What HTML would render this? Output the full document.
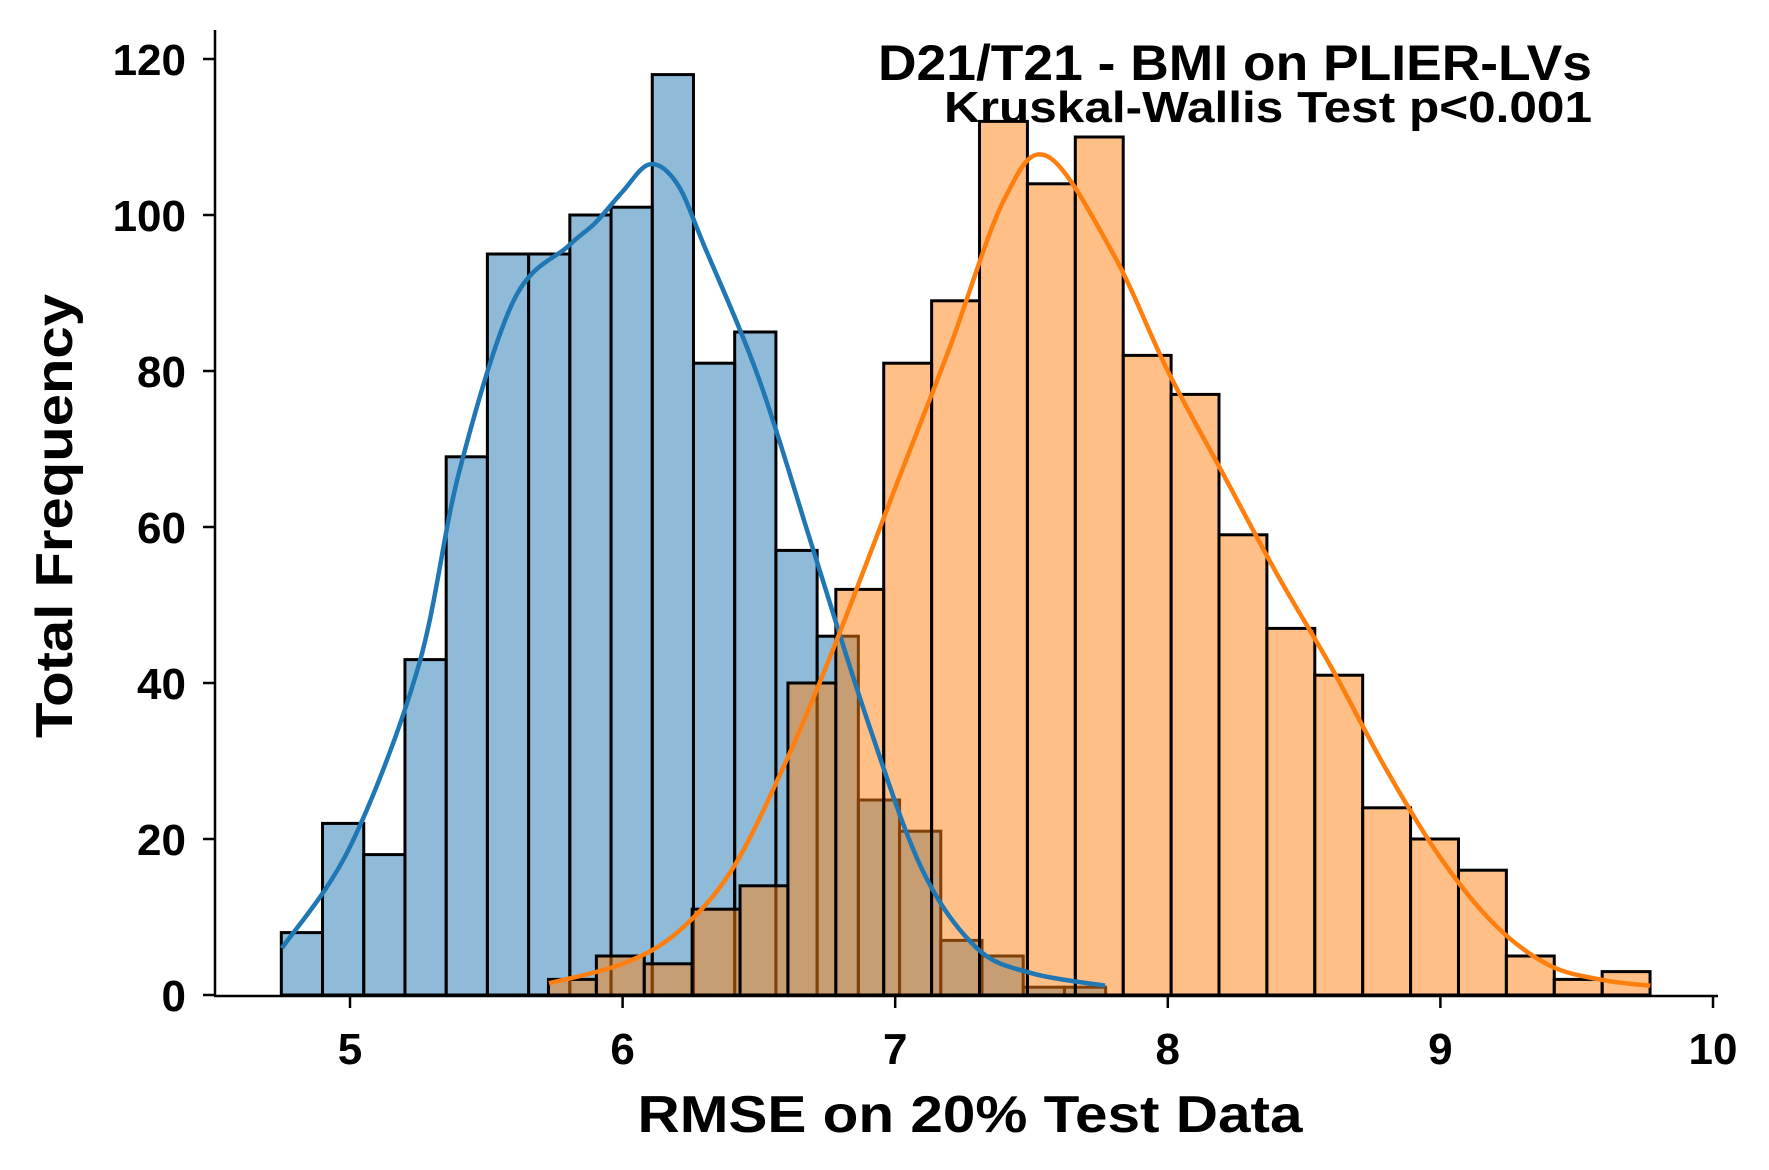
<!DOCTYPE html>
<html><head><meta charset="utf-8"><style>
html,body{margin:0;padding:0;background:#fff;}
svg{display:block;font-family:"Liberation Sans",Arial,sans-serif;font-weight:bold;}
</style></head><body>
<svg id="chart" width="1769" height="1170" viewBox="0 0 1769 1170" xmlns="http://www.w3.org/2000/svg">
<rect width="1769" height="1170" fill="#fff"/>
<g id="bars-blue"></g>
<g id="bars-orange"></g>
<path id="kde-blue" fill="none" stroke="#1f77b4" stroke-width="4.5"/>
<path id="kde-orange" fill="none" stroke="#ff7f0e" stroke-width="4.5"/>
<g id="axes"></g>
<text x="1592" y="80" text-anchor="end" font-size="50" textLength="714" lengthAdjust="spacingAndGlyphs">D21/T21 - BMI on PLIER-LVs</text>
<text x="1592" y="122" text-anchor="end" font-size="44" textLength="648" lengthAdjust="spacingAndGlyphs">Kruskal-Wallis Test p&lt;0.001</text>
<text x="970" y="1132" text-anchor="middle" font-size="52" textLength="665" lengthAdjust="spacingAndGlyphs">RMSE on 20% Test Data</text>
<text transform="translate(72,516) rotate(-90)" text-anchor="middle" font-size="52" textLength="444" lengthAdjust="spacingAndGlyphs">Total Frequency</text>
</svg>
<script>
const blueStart = 4.748, blueWidth = 0.1512;
const blueCounts = [8,22,18,43,69,95,95,100,101,118,81,85,57,46,25,21,7,5,1,1];
const orangeStart = 5.728, orangeWidth = 0.1757;
const orangeCounts = [2,5,4,11,14,40,52,81,89,112,104,110,82,77,59,47,41,24,20,16,5,2,3];
const blueKdeX = [4.75,5.0,5.25,5.4,5.6,5.8,5.9,6.0,6.1,6.2,6.3,6.5,6.7,6.9,7.1,7.3,7.5,7.77];
const blueKdeY = [6,19,42,67,89,96,99,103,106.5,104,96,79,57,35,16,6,2.8,1.2];
const orangeKdeX = [5.73,6.0,6.2,6.4,6.6,6.78,7.0,7.2,7.4,7.56,7.8,8.0,8.2,8.4,8.6,8.8,9.0,9.2,9.4,9.6,9.77];
const orangeKdeY = [1.5,4,8,16,30,45,65,83,102,107.5,95,80,67,54,42,29,17.6,9,3.8,1.9,1.2];
const xTicks = [5,6,7,8,9,10];
const yTicks = [0,20,40,60,80,100,120];

const NS = "http://www.w3.org/2000/svg";
const X = v => 350 + (v - 5) * 272.6;
const Y = v => 995 - v * 7.8;

function mk(tag, attrs, parent){const e=document.createElementNS(NS,tag);for(const k in attrs)e.setAttribute(k,attrs[k]);parent.appendChild(e);return e;}

function drawBars(gid, start, width, counts, fill, nm){
  const g=document.getElementById(gid);
  counts.forEach((c,i)=>{
    const x0=X(start+i*width), x1=X(start+(i+1)*width);
    const r=mk('rect',{x:x0,y:Y(c),width:x1-x0,height:Y(0)-Y(c),fill:fill,'fill-opacity':0.5,stroke:'#000','stroke-width':3},g);
    
    
  });
}
drawBars('bars-blue',blueStart,blueWidth,blueCounts,'#1f77b4','blue');
drawBars('bars-orange',orangeStart,orangeWidth,orangeCounts,'#ff7f0e','orange');

function smooth(xs,ys){
  const p=xs.map((x,i)=>[X(x),Y(ys[i])]);
  let d='M'+p[0][0]+','+p[0][1];
  for(let i=0;i<p.length-1;i++){
    const p0=p[Math.max(i-1,0)],p1=p[i],p2=p[i+1],p3=p[Math.min(i+2,p.length-1)];
    const c1=[p1[0]+(p2[0]-p0[0])/6,p1[1]+(p2[1]-p0[1])/6];
    const c2=[p2[0]-(p3[0]-p1[0])/6,p2[1]-(p3[1]-p1[1])/6];
    d+=' C'+c1[0]+','+c1[1]+' '+c2[0]+','+c2[1]+' '+p2[0]+','+p2[1];
  }
  return d;
}
document.getElementById('kde-blue').setAttribute('d',smooth(blueKdeX,blueKdeY));
document.getElementById('kde-orange').setAttribute('d',smooth(orangeKdeX,orangeKdeY));

const ax=document.getElementById('axes');
const yl=mk('line',{x1:215,y1:30,x2:215,y2:996,stroke:'#000','stroke-width':2.5},ax);


const xl=mk('line',{x1:214,y1:996,x2:1718,y2:996,stroke:'#000','stroke-width':2.5},ax);


xTicks.forEach(t=>{
  const l=mk('line',{x1:X(t),y1:996,x2:X(t),y2:1008,stroke:'#000','stroke-width':2.5},ax);
  
  
  const tx=mk('text',{x:X(t),y:1064,'text-anchor':'middle','font-size':44},ax);
  tx.textContent=t;
  
  
});
yTicks.forEach(t=>{
  const l=mk('line',{x1:203,y1:Y(t),x2:215,y2:Y(t),stroke:'#000','stroke-width':2.5},ax);
  
  
  const tx=mk('text',{x:186,y:Y(t)+16,'text-anchor':'end','font-size':44},ax);
  tx.textContent=t;
  
  
});
</script>
</body></html>
